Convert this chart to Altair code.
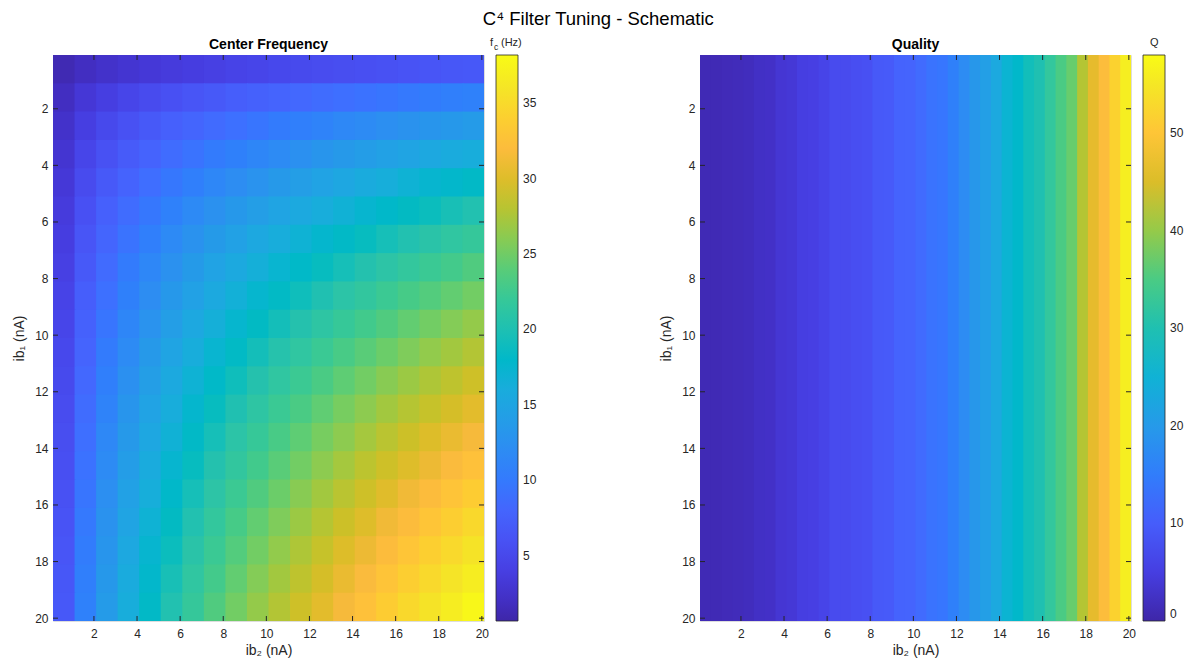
import altair as alt
import numpy as np
import pandas as pd

MAIN_TITLE = "C⁴ Filter Tuning - Schematic"
LEFT_TITLE = "Center Frequency"
RIGHT_TITLE = "Quality"

# cell centres (nA) used for both ib1 (rows) and ib2 (columns)
IB_CENTERS = [0.6, 1.6, 2.6, 3.6, 4.6, 5.6, 6.6, 7.6, 8.6, 9.6,
              10.6, 11.6, 12.6, 13.6, 14.6, 15.6, 16.6, 17.6, 18.6, 19.6]
AXIS_TICKS = [2, 4, 6, 8, 10, 12, 14, 16, 18, 20]

# centre frequency (Hz), one list per ib1 row, columns follow ib2
fc_row01 = [1.2, 1.9, 2.4, 2.8, 3.2, 3.5, 3.8, 4.1, 4.4, 4.6, 4.9, 5.1, 5.3, 5.5, 5.7, 5.9, 6.1, 6.3, 6.5, 6.6]
fc_row02 = [1.9, 3.1, 3.9, 4.6, 5.2, 5.8, 6.3, 6.7, 7.2, 7.6, 7.9, 8.3, 8.7, 9.0, 9.3, 9.6, 9.9, 10.2, 10.5, 10.8]
fc_row03 = [2.4, 3.9, 5.0, 5.9, 6.7, 7.4, 8.0, 8.6, 9.1, 9.6, 10.1, 10.6, 11.0, 11.5, 11.9, 12.3, 12.7, 13.0, 13.4, 13.8]
fc_row04 = [2.8, 4.6, 5.9, 6.9, 7.8, 8.7, 9.4, 10.1, 10.7, 11.3, 11.9, 12.5, 13.0, 13.5, 14.0, 14.5, 14.9, 15.4, 15.8, 16.2]
fc_row05 = [3.2, 5.2, 6.7, 7.8, 8.9, 9.8, 10.6, 11.4, 12.1, 12.8, 13.5, 14.1, 14.7, 15.3, 15.8, 16.3, 16.9, 17.4, 17.8, 18.3]
fc_row06 = [3.5, 5.8, 7.4, 8.7, 9.8, 10.8, 11.7, 12.6, 13.4, 14.1, 14.9, 15.5, 16.2, 16.8, 17.4, 18.0, 18.6, 19.1, 19.7, 20.2]
fc_row07 = [3.8, 6.3, 8.0, 9.4, 10.6, 11.7, 12.7, 13.7, 14.5, 15.4, 16.1, 16.9, 17.6, 18.3, 18.9, 19.6, 20.2, 20.8, 21.4, 21.9]
fc_row08 = [4.1, 6.7, 8.6, 10.1, 11.4, 12.6, 13.7, 14.7, 15.6, 16.5, 17.3, 18.1, 18.9, 19.6, 20.3, 21.0, 21.7, 22.3, 22.9, 23.6]
fc_row09 = [4.4, 7.2, 9.1, 10.7, 12.1, 13.4, 14.5, 15.6, 16.6, 17.5, 18.4, 19.3, 20.1, 20.9, 21.6, 22.4, 23.1, 23.7, 24.4, 25.1]
fc_row10 = [4.6, 7.6, 9.6, 11.3, 12.8, 14.1, 15.4, 16.5, 17.5, 18.5, 19.5, 20.4, 21.2, 22.0, 22.8, 23.6, 24.4, 25.1, 25.8, 26.5]
fc_row11 = [4.9, 7.9, 10.1, 11.9, 13.5, 14.9, 16.1, 17.3, 18.4, 19.5, 20.5, 21.4, 22.3, 23.2, 24.0, 24.8, 25.6, 26.4, 27.1, 27.8]
fc_row12 = [5.1, 8.3, 10.6, 12.5, 14.1, 15.5, 16.9, 18.1, 19.3, 20.4, 21.4, 22.4, 23.3, 24.2, 25.1, 26.0, 26.8, 27.6, 28.3, 29.1]
fc_row13 = [5.3, 8.7, 11.0, 13.0, 14.7, 16.2, 17.6, 18.9, 20.1, 21.2, 22.3, 23.3, 24.3, 25.3, 26.2, 27.1, 27.9, 28.7, 29.5, 30.3]
fc_row14 = [5.5, 9.0, 11.5, 13.5, 15.3, 16.8, 18.3, 19.6, 20.9, 22.0, 23.2, 24.2, 25.3, 26.2, 27.2, 28.1, 29.0, 29.9, 30.7, 31.5]
fc_row15 = [5.7, 9.3, 11.9, 14.0, 15.8, 17.4, 18.9, 20.3, 21.6, 22.8, 24.0, 25.1, 26.2, 27.2, 28.2, 29.1, 30.0, 30.9, 31.8, 32.6]
fc_row16 = [5.9, 9.6, 12.3, 14.5, 16.3, 18.0, 19.6, 21.0, 22.4, 23.6, 24.8, 26.0, 27.1, 28.1, 29.1, 30.1, 31.1, 32.0, 32.9, 33.7]
fc_row17 = [6.1, 9.9, 12.7, 14.9, 16.9, 18.6, 20.2, 21.7, 23.1, 24.4, 25.6, 26.8, 27.9, 29.0, 30.0, 31.1, 32.0, 33.0, 33.9, 34.8]
fc_row18 = [6.3, 10.2, 13.0, 15.4, 17.4, 19.1, 20.8, 22.3, 23.7, 25.1, 26.4, 27.6, 28.7, 29.9, 30.9, 32.0, 33.0, 34.0, 34.9, 35.8]
fc_row19 = [6.5, 10.5, 13.4, 15.8, 17.8, 19.7, 21.4, 22.9, 24.4, 25.8, 27.1, 28.3, 29.5, 30.7, 31.8, 32.9, 33.9, 34.9, 35.9, 36.8]
fc_row20 = [6.6, 10.8, 13.8, 16.2, 18.3, 20.2, 21.9, 23.6, 25.1, 26.5, 27.8, 29.1, 30.3, 31.5, 32.6, 33.7, 34.8, 35.8, 36.8, 37.8]

# quality factor, a function of ib2 only (0.5 nA wide columns)
Q_IB2 = [0.35, 0.85, 1.35, 1.85, 2.35, 2.85, 3.35, 3.85, 4.35, 4.85,
         5.35, 5.85, 6.35, 6.85, 7.35, 7.85, 8.35, 8.85, 9.35, 9.85,
         10.35, 10.85, 11.35, 11.85, 12.35, 12.85, 13.35, 13.85, 14.35, 14.85,
         15.35, 15.85, 16.35, 16.85, 17.35, 17.85, 18.35, 18.85, 19.35, 19.85]
Q_VALUES = [1.0, 1.0, 1.2, 1.4, 1.6, 2.3, 2.4, 3.5, 3.8, 5.0,
            5.2, 6.0, 7.0, 7.0, 7.5, 8.0, 9.3, 9.5, 11.0, 11.2,
            12.2, 13.5, 14.0, 15.5, 17.4, 19.5, 21.0, 23.0, 25.5, 26.7,
            29.0, 30.0, 32.5, 35.0, 37.0, 42.0, 46.0, 48.5, 52.0, 56.0]

FC_LEGEND_TICKS = [5, 10, 15, 20, 25, 30, 35]
Q_LEGEND_TICKS = [0, 10, 20, 30, 40, 50]
FC_RANGE = [0.66, 38.2]
Q_RANGE = [0.0, 58.0]

PARULA = ["#3e26a8", "#402ab4", "#422ec0", "#4332cb", "#4537d5", "#463cde", "#4741e5", "#4747eb",
          "#484df0", "#4852f4", "#4758f8", "#465efb", "#4563fd", "#4269fe", "#3e6fff", "#3875fe",
          "#327cfc", "#2f81fa", "#2e87f7", "#2d8cf3", "#2b91ef", "#2796eb", "#259be8", "#23a0e5",
          "#20a5e3", "#1ca9df", "#18addb", "#12b1d6", "#08b5d0", "#01b8ca", "#02bac3", "#0bbdbd",
          "#19bfb6", "#24c1ae", "#2cc4a7", "#31c69f", "#37c897", "#3fca8e", "#4acb84", "#57cc7a",
          "#64cd6f", "#72cd64", "#81cc59", "#8fcb4e", "#9dc943", "#abc739", "#b9c431", "#c5c22a",
          "#d1bf27", "#dcbd29", "#e6bb2d", "#f0ba36", "#f8ba3d", "#febe3c", "#fec338", "#fec934",
          "#fccf30", "#fad62d", "#f7dc2a", "#f5e327", "#f5e924", "#f6ef20", "#f7f51b", "#f9fb15"]

FC_ROWS = [fc_row01, fc_row02, fc_row03, fc_row04, fc_row05, fc_row06, fc_row07, fc_row08, fc_row09, fc_row10,
           fc_row11, fc_row12, fc_row13, fc_row14, fc_row15, fc_row16, fc_row17, fc_row18, fc_row19, fc_row20]

fc_records = []
for i, ib1 in enumerate(IB_CENTERS):
    for j, ib2 in enumerate(IB_CENTERS):
        fc_records.append({"ib1": ib1, "ib2": ib2, "fc": FC_ROWS[i][j]})
df_fc = pd.DataFrame(fc_records)
df_q = pd.DataFrame({"ib2": Q_IB2, "q": Q_VALUES})
df_ticks = pd.DataFrame({"t": AXIS_TICKS})

W, H = 431, 566
INK = "#262626"
FONT = "Liberation Sans"
DOM = [0.1, 20.1]

x_scale = alt.Scale(domain=DOM, nice=False, zero=False)
y_scale = alt.Scale(domain=DOM, nice=False, zero=False, reverse=True)


def color_scale(lo, hi):
    stops = [float(v) for v in np.linspace(lo, hi, len(PARULA))]
    return alt.Scale(domain=stops, range=PARULA, interpolate="rgb", clamp=True)


ax_x = alt.Axis(title="ib₂ (nA)", values=AXIS_TICKS, ticks=False, tickSize=0, domain=False, grid=False,
                labelFontSize=12, labelColor=INK, labelPadding=7, labelFont=FONT,
                titleFontSize=14, titleFontWeight="normal", titleColor=INK, titlePadding=4, titleFont=FONT)
ax_y = alt.Axis(title="ib₁ (nA)", values=AXIS_TICKS, ticks=False, tickSize=0, domain=False, grid=False,
                labelFontSize=12, labelColor=INK, labelPadding=5, labelFont=FONT,
                titleFontSize=14, titleFontWeight="normal", titleColor=INK, titlePadding=8, titleFont=FONT)


def legend(values):
    return alt.Legend(title=None, orient="right", offset=12, padding=0, direction="vertical", type="gradient",
                      gradientLength=H, gradientThickness=22, gradientStrokeColor=INK, gradientStrokeWidth=0.8,
                      values=values, labelFontSize=12, labelColor=INK, labelOffset=5, labelFont=FONT,
                      labelBaseline="middle")


def tick_layers():
    rule = dict(color=INK, strokeWidth=1)
    bottom = alt.Chart(df_ticks).mark_rule(**rule).encode(
        x=alt.X("t:Q", scale=x_scale, axis=ax_x), y=alt.value(H), y2=alt.value(H - 5))
    top = alt.Chart(df_ticks).mark_rule(**rule).encode(
        x=alt.X("t:Q", scale=x_scale, axis=ax_x), y=alt.value(0), y2=alt.value(5))
    left = alt.Chart(df_ticks).mark_rule(**rule).encode(
        y=alt.Y("t:Q", scale=y_scale, axis=ax_y), x=alt.value(0), x2=alt.value(5))
    right = alt.Chart(df_ticks).mark_rule(**rule).encode(
        y=alt.Y("t:Q", scale=y_scale, axis=ax_y), x=alt.value(W - 5), x2=alt.value(W))
    return [bottom, top, left, right]


def label(text, x, y, size):
    return alt.Chart(pd.DataFrame({"s": [text]})).mark_text(
        align="left", baseline="alphabetic", fontSize=size, color=INK, font=FONT
    ).encode(text="s:N", x=alt.value(x), y=alt.value(y))


def panel_title(text):
    return alt.TitleParams(text, fontSize=14, fontWeight="bold", color="#000000", font=FONT,
                           offset=-15, frame="group")


fc_scale = color_scale(*FC_RANGE)
heat_fc = alt.Chart(df_fc).mark_rect(clip=True).transform_calculate(
    x0="datum.ib2 - 0.5", x1="datum.ib2 + 0.55", y0="datum.ib1 - 0.5", y1="datum.ib1 + 0.55"
).encode(
    x=alt.X("x0:Q", scale=x_scale, axis=ax_x), x2="x1:Q",
    y=alt.Y("y0:Q", scale=y_scale, axis=ax_y), y2="y1:Q",
    color=alt.Color("fc:Q", scale=fc_scale, legend=legend(FC_LEGEND_TICKS)),
)

left_chart = alt.layer(
    heat_fc, *tick_layers(),
    label("f", W + 6, -9, 11), label("c", W + 10, -5, 8.5), label("(Hz)", W + 17, -9, 11),
).properties(width=W, height=H, title=panel_title(LEFT_TITLE))

q_scale = color_scale(*Q_RANGE)
heat_q = alt.Chart(df_q).mark_rect(clip=True).transform_calculate(
    x0="datum.ib2 - 0.25", x1="datum.ib2 + 0.3"
).encode(
    x=alt.X("x0:Q", scale=x_scale, axis=ax_x), x2="x1:Q",
    color=alt.Color("q:Q", scale=q_scale, legend=legend(Q_LEGEND_TICKS)),
)

right_chart = alt.layer(
    heat_q, *tick_layers(), label("Q", W + 19, -9, 11),
).properties(width=W, height=H, title=panel_title(RIGHT_TITLE))

chart = alt.hconcat(left_chart, right_chart, spacing=121).resolve_scale(
    color="independent"
).resolve_legend(color="independent").properties(
    title=alt.TitleParams(MAIN_TITLE, fontSize=18.5, fontWeight="normal", color="#000000", font=FONT,
                          anchor="middle", offset=8.5),
    padding={"left": 4, "top": 1, "right": 0, "bottom": 0},
).configure_view(stroke=INK, strokeWidth=1).configure_legend(
    gradientVerticalMaxLength=700
).configure(font=FONT, background="#ffffff")

chart.save("out.html", embed_options={"renderer": "svg", "actions": False})
